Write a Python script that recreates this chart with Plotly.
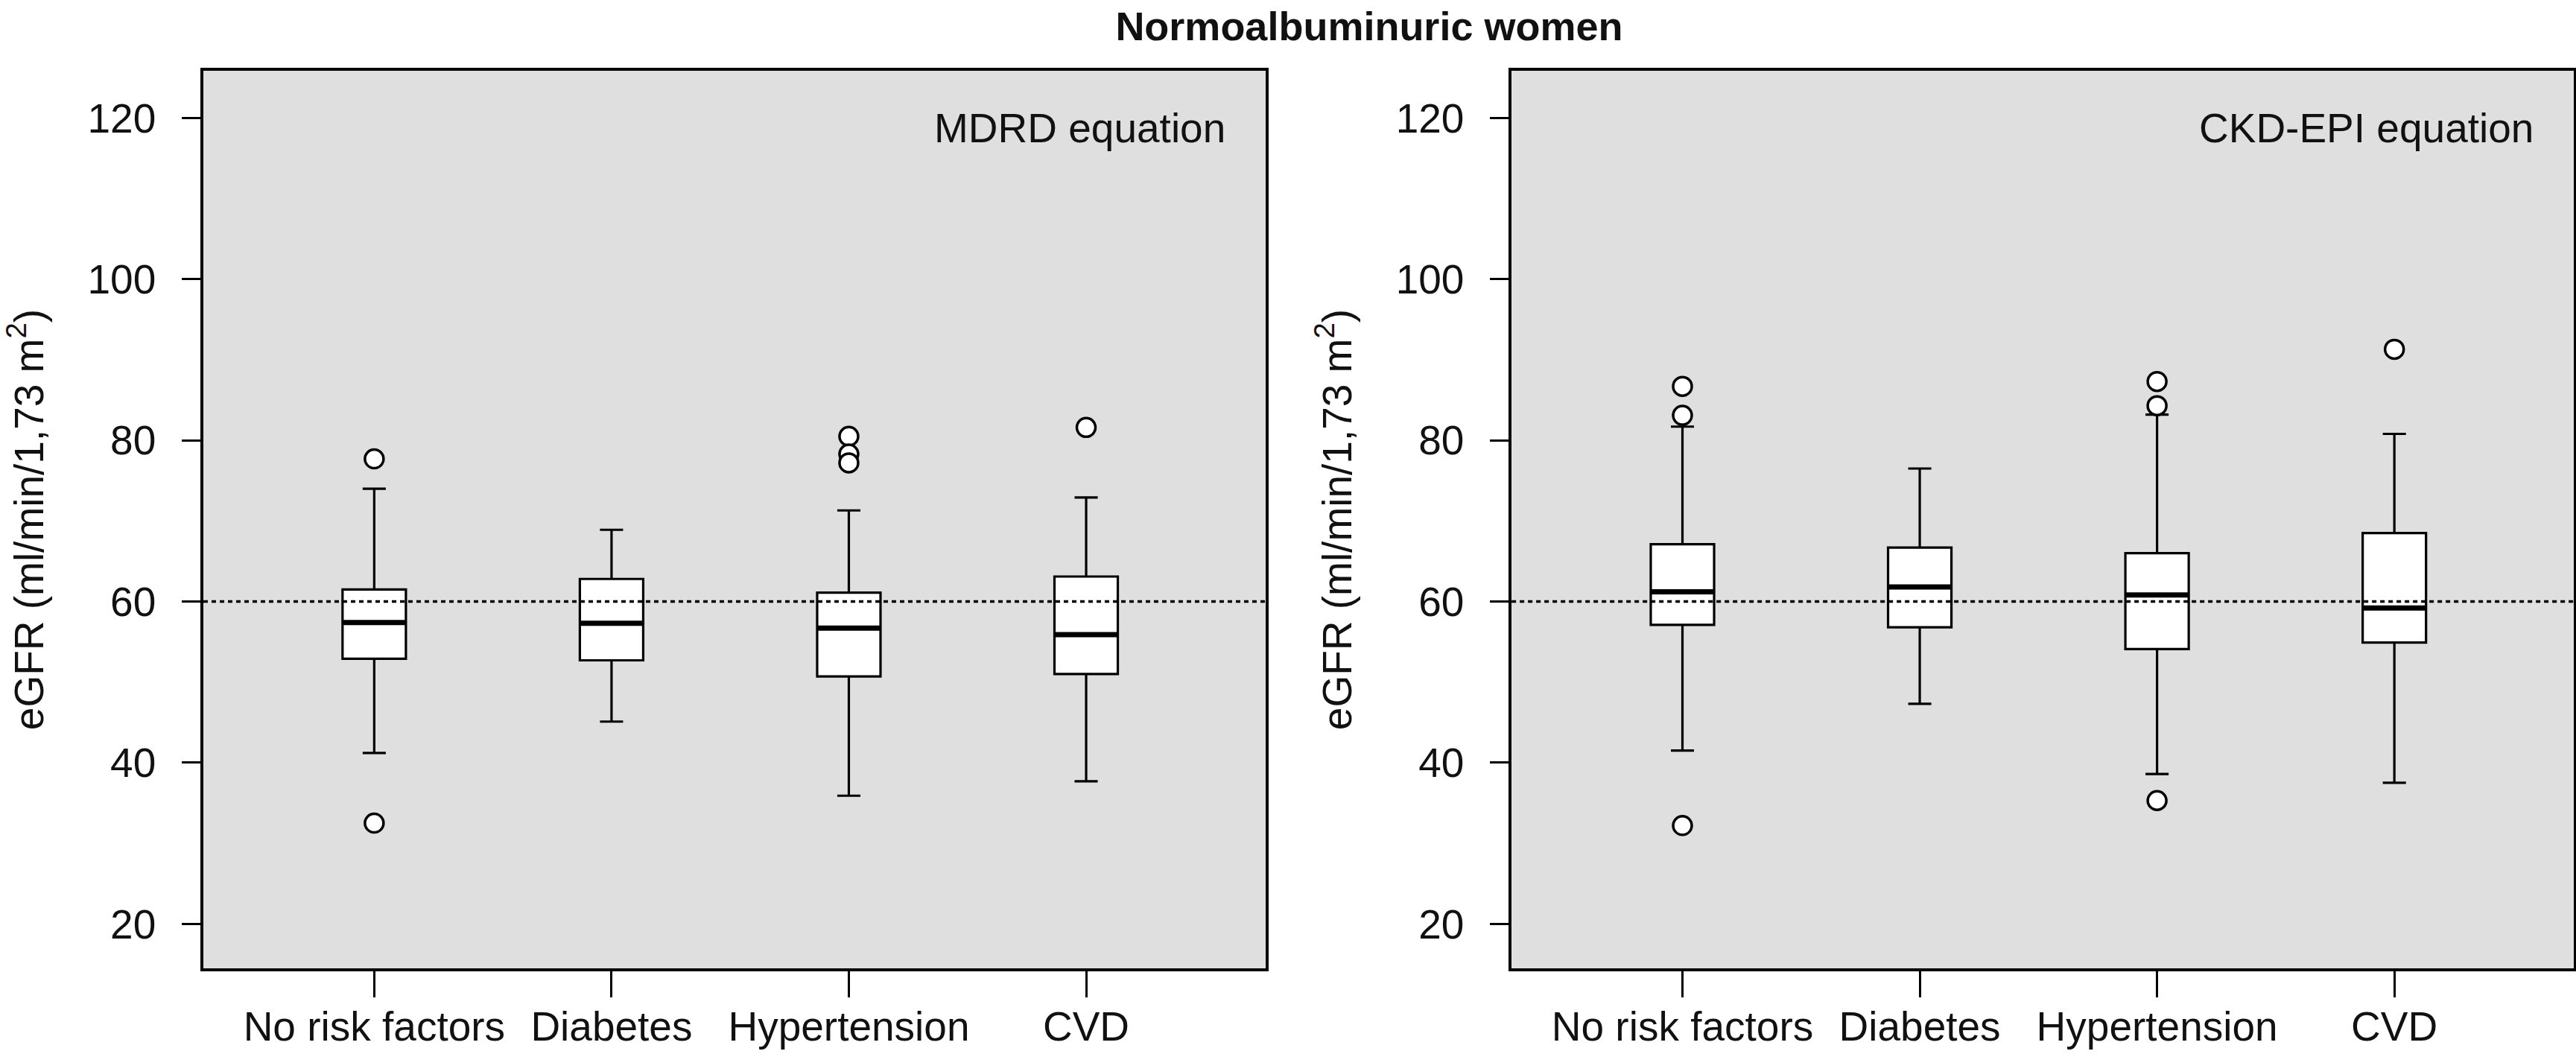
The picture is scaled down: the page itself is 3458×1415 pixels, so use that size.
import plotly.graph_objects as go

# ---------------- data ----------------
categories = ["No risk factors", "Diabetes", "Hypertension", "CVD"]
cat_pos = [1, 2, 3, 4]

# MDRD equation (left panel)
mdrd_lower = [41.2, 45.1, 35.9, 37.7]
mdrd_q1 = [52.9, 52.7, 50.7, 51.0]
mdrd_median = [57.4, 57.3, 56.7, 55.9]
mdrd_q3 = [61.5, 62.8, 61.1, 63.1]
mdrd_upper = [74.0, 68.9, 71.3, 72.9]
mdrd_outliers = [[77.7, 32.5], [], [80.5, 78.3, 77.2], [81.6]]

# CKD-EPI equation (right panel)
ckd_lower = [41.5, 47.3, 38.6, 37.5]
ckd_q1 = [57.1, 56.8, 54.1, 54.9]
ckd_median = [61.2, 61.8, 60.8, 59.2]
ckd_q3 = [67.1, 66.7, 66.0, 68.5]
ckd_upper = [81.7, 76.5, 83.2, 80.8]
ckd_outliers = [[86.7, 83.1, 32.2], [], [87.3, 84.3, 35.3], [91.3]]

threshold = 60
y_ticks = [20, 40, 60, 80, 100, 120]

title_text = "<b>Normoalbuminuric women</b>"
panel_labels = ["MDRD equation", "CKD-EPI equation"]
y_title = "eGFR (ml/min/1,73 m<sup>2</sup>)"

# ---------------- style ----------------
FONT = "Liberation Sans, Arial, Helvetica, sans-serif"
FS = 55
BOX_W = 0.267
WHISK_W = 0.365
BG = "#dfdfdf"

fig = go.Figure()

panels = [
    ("x", "y", mdrd_lower, mdrd_q1, mdrd_median, mdrd_q3, mdrd_upper, mdrd_outliers),
    ("x2", "y2", ckd_lower, ckd_q1, ckd_median, ckd_q3, ckd_upper, ckd_outliers),
]

for xa, ya, lo, q1, med, q3, hi, outl in panels:
    fig.add_trace(go.Box(
        x=cat_pos, q1=q1, median=med, q3=q3, lowerfence=lo, upperfence=hi,
        width=BOX_W, whiskerwidth=WHISK_W, fillcolor="white",
        line=dict(color="black", width=3.2), boxpoints=False,
        xaxis=xa, yaxis=ya, hoverinfo="skip",
    ))
    # thick median lines
    mx, my = [], []
    for p, m in zip(cat_pos, med):
        mx += [p - BOX_W / 2, p + BOX_W / 2, None]
        my += [m, m, None]
    fig.add_trace(go.Scatter(
        x=mx, y=my, mode="lines", line=dict(color="black", width=7),
        xaxis=xa, yaxis=ya, hoverinfo="skip",
    ))
    # outliers
    ox, oy = [], []
    for p, vals in zip(cat_pos, outl):
        for v in vals:
            ox.append(p)
            oy.append(v)
    fig.add_trace(go.Scatter(
        x=ox, y=oy, mode="markers",
        marker=dict(symbol="circle", size=25, color="white",
                    line=dict(color="black", width=3.5)),
        xaxis=xa, yaxis=ya, hoverinfo="skip", cliponaxis=False,
    ))

axis_common = dict(
    showgrid=False, zeroline=False, showline=True, mirror=True,
    linecolor="black", linewidth=3.5, ticks="outside", tickcolor="black",
    tickwidth=3, tickfont=dict(family=FONT, size=FS, color="#111111"),
    automargin=False,
)

xcommon = dict(axis_common, range=[0.28, 4.756], tickmode="array",
               tickvals=cat_pos, ticktext=categories, ticklen=35,
               ticklabelstandoff=-8)
ycommon = dict(axis_common, range=[14.48, 125.86], tickmode="array",
               tickvals=y_ticks, ticklen=25, ticklabelstandoff=24,
               title=dict(text=y_title, font=dict(family=FONT, size=FS, color="#111111"),
                          standoff=42))

fig.update_layout(
    width=3458, height=1415,
    margin=dict(l=273, r=3, t=95, b=115),
    paper_bgcolor="white", plot_bgcolor=BG,
    showlegend=False,
    title=dict(text=title_text, x=0.5315, xanchor="center", y=0.9755,
               yanchor="middle", font=dict(family=FONT, size=54, color="#111111"),
               automargin=False),
    xaxis=dict(xcommon, domain=[0, 0.4481], anchor="y"),
    yaxis=dict(ycommon, anchor="x"),
    xaxis2=dict(xcommon, domain=[0.5519, 1], anchor="y2"),
    yaxis2=dict(ycommon, anchor="x2"),
)

for xa, ya in [("x", "y"), ("x2", "y2")]:
    fig.add_shape(type="line", xref=f"{xa} domain", x0=0, x1=1,
                  yref=ya, y0=threshold, y1=threshold, layer="above",
                  line=dict(color="black", width=3.5, dash="6px,5px"))

for (xa, ya), label in zip([("x", "y"), ("x2", "y2")], panel_labels):
    fig.add_annotation(text=label, xref=f"{xa} domain", x=1, xshift=-52,
                       xanchor="right", yref=f"{ya} domain", y=0.936,
                       yanchor="middle", showarrow=False,
                       font=dict(family=FONT, size=FS, color="#111111"))

fig.write_html("out.html", config={"displayModeBar": False},
               post_script="document.body.style.margin='0';document.body.style.overflow='hidden';")
